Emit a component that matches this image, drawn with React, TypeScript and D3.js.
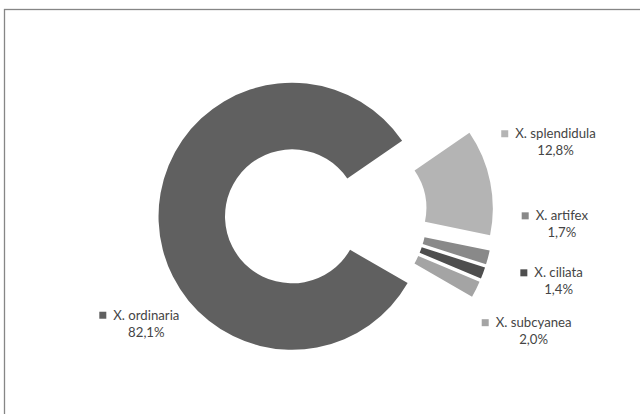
import React, { useEffect, useRef } from "react";
import * as d3 from "d3";

// ---- data ----
const species = ["X. ordinaria", "X. splendidula", "X. artifex", "X. ciliata", "X. subcyanea"];
const shares = [82.1, 12.8, 1.7, 1.4, 2.0];
const percentLabels = ["82,1%", "12,8%", "1,7%", "1,4%", "2,0%"];

// ---- style / layout ----
const colors = ["#606060", "#b4b4b4", "#898989", "#4e4e4e", "#a4a4a4"];
const labelAngles = [233.6, 71.4, 90.2, 105.2, 119.7]; // degrees, clockwise from 12 o'clock
const labelRadii = [181, 207, 203, 208, 204];

const W = 640;
const H = 414;
const CX = 326;
const CY = 215;
const R_OUT = 133.5;
const R_IN = 67;
const EXPLODE = 34;
const START_DEG = 120;
const FONT = "Lato, 'Open Sans', sans-serif";
const FONT_SIZE = 13.2;
const TEXT_COLOR = "#454545";

export default function App() {
  const ref = useRef<SVGSVGElement | null>(null);

  useEffect(() => {
    const svg = d3.select(ref.current);
    svg.selectAll("*").remove();

    svg
      .append("rect")
      .attr("x", 4.5)
      .attr("y", 9.5)
      .attr("width", 700)
      .attr("height", 500)
      .attr("fill", "#ffffff")
      .attr("stroke", "#868686")
      .attr("stroke-width", 1.3);

    const data = species.map((name, i) => ({ name, value: shares[i], pct: percentLabels[i], i }));
    const start = (START_DEG * Math.PI) / 180;
    const pie = d3
      .pie<any>()
      .sort(null)
      .value((d: any) => d.value)
      .startAngle(start)
      .endAngle(start + 2 * Math.PI);
    const arcs = pie(data);
    const arc = d3.arc<any>().innerRadius(R_IN).outerRadius(R_OUT);

    const g = svg.append("g").attr("transform", `translate(${CX},${CY})`);

    const slices = arcs.map((a) => {
      const mid = (a.startAngle + a.endAngle) / 2;
      const ox = EXPLODE * Math.sin(mid);
      const oy = -EXPLODE * Math.cos(mid);
      return { a, ox, oy };
    });

    g.selectAll("path.slice")
      .data(slices)
      .join("path")
      .attr("class", "slice")
      .attr("transform", (s) => `translate(${s.ox},${s.oy})`)
      .attr("d", (s) => arc(s.a) as string)
      .attr("fill", (s) => colors[s.a.data.i]);

    const lg = svg.append("g");
    slices.forEach((s) => {
      const i = s.a.data.i;
      const ang = (labelAngles[i] * Math.PI) / 180;
      const lx = CX + s.ox + labelRadii[i] * Math.sin(ang);
      const ly = CY + s.oy - labelRadii[i] * Math.cos(ang);
      const grp = lg.append("g");
      const nameText = grp
        .append("text")
        .attr("x", lx)
        .attr("y", ly - 8.5)
        .attr("dy", "0.35em")
        .attr("text-anchor", "middle")
        .attr("font-family", FONT)
        .attr("font-size", FONT_SIZE)
        .attr("fill", TEXT_COLOR)
        .text(s.a.data.name);
      grp
        .append("text")
        .attr("x", lx)
        .attr("y", ly + 8.5)
        .attr("dy", "0.35em")
        .attr("text-anchor", "middle")
        .attr("font-family", FONT)
        .attr("font-size", FONT_SIZE)
        .attr("fill", TEXT_COLOR)
        .text(s.a.data.pct);
      const w = (nameText.node() as SVGTextElement).getComputedTextLength();
      grp
        .append("rect")
        .attr("x", lx - w / 2 - 14)
        .attr("y", ly - 8.5 - 3.5)
        .attr("width", 7)
        .attr("height", 7)
        .attr("fill", colors[i]);
    });
  }, []);

  return (
    <div style={{ position: "absolute", left: 0, top: 0, width: W, height: H, background: "#fff" }}>
      <svg ref={ref} width={W} height={H} style={{ display: "block" }} />
    </div>
  );
}
